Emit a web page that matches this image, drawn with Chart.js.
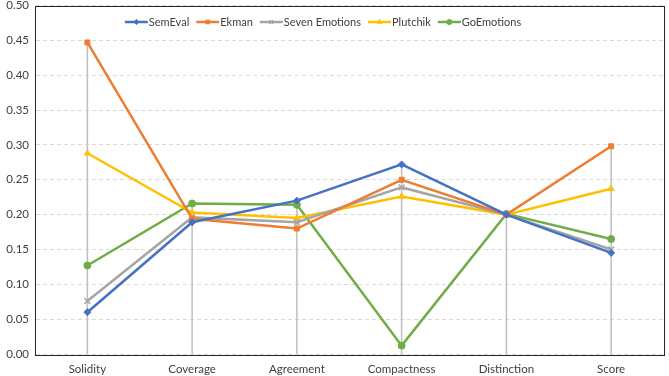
<!DOCTYPE html>
<html>
<head>
<meta charset="utf-8">
<script src="https://cdn.jsdelivr.net/npm/chart.js@4"></script>
<style>
  html, body { margin: 0; padding: 0; background: #fff; }
  #wrap { width: 669px; height: 376px; }
</style>
</head>
<body>
<div id="wrap"><canvas id="chart" width="669" height="376"></canvas></div>
<script>
// data
const categories = ['Solidity', 'Coverage', 'Agreement', 'Compactness', 'Distinction', 'Score'];
const semEval   = [0.060, 0.189, 0.220, 0.272, 0.200, 0.145];
const ekman     = [0.447, 0.194, 0.180, 0.250, 0.200, 0.298];
const sevenEmo  = [0.076, 0.196, 0.189, 0.239, 0.200, 0.150];
const plutchik  = [0.288, 0.203, 0.195, 0.226, 0.200, 0.237];
const goEmo     = [0.127, 0.216, 0.214, 0.012, 0.201, 0.165];
const yTicks    = [0, 0.05, 0.10, 0.15, 0.20, 0.25, 0.30, 0.35, 0.40, 0.45, 0.50];

const FONT = 'Lato, "Liberation Sans", sans-serif';
const TEXT = '#404040';

function series(label, data, color, style) {
    return {
        label, data,
        borderColor: color,
        backgroundColor: color,
        borderWidth: 2.5,
        pointStyle: style,
        pointRadius: style === 'crossRot' ? 4 : 3.5,
        pointBorderWidth: style === 'crossRot' ? 1.5 : 1,
        pointBackgroundColor: color,
        pointBorderColor: color,
        tension: 0,
        fill: false
    };
}

const datasets = [
    series('SemEval', semEval, '#4472C4', 'rectRot'),
    series('Ekman', ekman, '#ED7D31', 'rect'),
    series('Seven Emotions', sevenEmo, '#A5A5A5', 'crossRot'),
    series('Plutchik', plutchik, '#FFC000', 'triangle'),
    series('GoEmotions', goEmo, '#70AD47', 'circle')
];

// vertical drop lines from highest value down to the axis
const dropLines = {
    id: 'dropLines',
    beforeDatasetsDraw(chart) {
        const { ctx, scales: { x, y } } = chart;
        ctx.save();
        ctx.strokeStyle = '#BFBFBF';
        ctx.lineWidth = 1.5;
        categories.forEach((c, i) => {
            const top = Math.max(...chart.data.datasets.map(d => d.data[i]));
            const px = x.getPixelForValue(i);
            ctx.beginPath();
            ctx.moveTo(px, y.getPixelForValue(top));
            ctx.lineTo(px, y.getPixelForValue(0));
            ctx.stroke();
        });
        ctx.restore();
    }
};

// black frame round the plot area + legend inside it
const frameAndLegend = {
    id: 'frameAndLegend',
    afterDraw(chart) {
        const { ctx, chartArea: a } = chart;
        ctx.save();
        ctx.strokeStyle = '#262626';
        ctx.lineWidth = 1;
        ctx.strokeRect(Math.round(a.left) + 0.5, Math.round(a.top) + 0.5,
            Math.round(a.right - a.left), Math.round(a.bottom - a.top));

        // legend: line + marker, then label
        const lineW = 23, gap = 1, itemGap = 7, ly = 22;
        ctx.font = '11px ' + FONT;
        ctx.textBaseline = 'middle';
        const dsets = chart.data.datasets;
        const widths = dsets.map(d => lineW + gap + ctx.measureText(d.label).width);
        const total = widths.reduce((s, w) => s + w, 0) + itemGap * (dsets.length - 1);
        let lx = 323 - total / 2;
        dsets.forEach((d, i) => {
            ctx.strokeStyle = d.borderColor;
            ctx.fillStyle = d.borderColor;
            ctx.lineWidth = 2.5;
            ctx.beginPath();
            ctx.moveTo(lx, ly); ctx.lineTo(lx + lineW, ly);
            ctx.stroke();
            ctx.lineWidth = d.pointBorderWidth;
            Chart.helpers.drawPoint(ctx, {
                pointStyle: d.pointStyle, radius: 2.6, borderWidth: d.pointBorderWidth
            }, lx + lineW / 2, ly);
            ctx.fillStyle = TEXT;
            ctx.textAlign = 'left';
            ctx.fillText(d.label, lx + lineW + gap, ly);
            lx += widths[i] + itemGap;
        });
        ctx.restore();
    }
};

new Chart(document.getElementById('chart'), {
    type: 'line',
    data: { labels: categories, datasets },
    plugins: [dropLines, frameAndLegend],
    options: {
        responsive: false,
        animation: false,
        layout: { padding: { top: 4, right: 5, left: 0, bottom: 0 } },
        plugins: {
            tooltip: { enabled: false },
            legend: { display: false }
        },
        scales: {
            x: {
                offset: true,
                grid: { display: false, drawTicks: false },
                border: { display: false },
                ticks: { color: TEXT, font: { family: FONT, size: 11.5 }, padding: 8, maxRotation: 0 },
                afterFit(s) { s.height = 22; s.paddingLeft = 0; s.paddingRight = 0; }
            },
            y: {
                min: 0, max: 0.5,
                afterBuildTicks(s) { s.ticks = yTicks.map(v => ({ value: v })); },
                grid: { color: '#D9D9D9', lineWidth: 1, drawTicks: false },
                border: { display: true, color: 'rgba(0,0,0,0)', dash: [4, 3] },
                ticks: {
                    color: TEXT, font: { family: FONT, size: 11.5 }, padding: 6,
                    callback: v => v.toFixed(2)
                },
                afterFit(s) { s.width = 35; s.paddingTop = 0; s.paddingBottom = 0; }
            }
        }
    }
});
</script>
</body>
</html>
